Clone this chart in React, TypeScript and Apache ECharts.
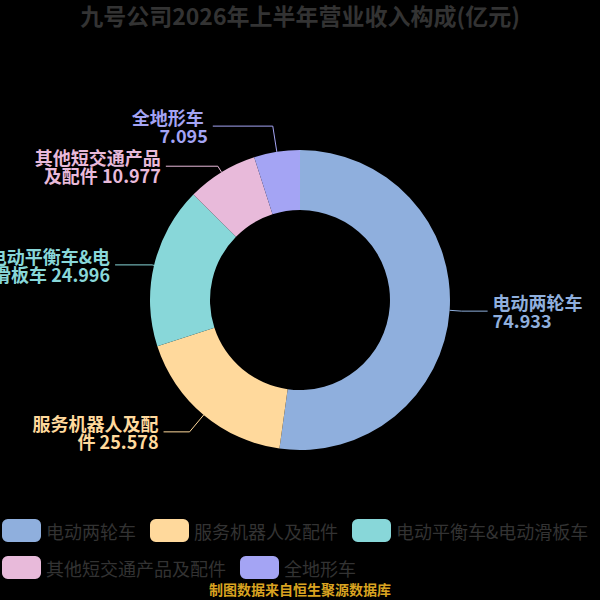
import React, { useEffect, useRef } from "react";
import * as echarts from "echarts";

const TITLE = "九号公司2026年上半年营业收入构成(亿元)";
const FOOTER = "制图数据来自恒生聚源数据库";
const categories = [
  "电动两轮车",
  "服务机器人及配件",
  "电动平衡车&电动滑板车",
  "其他短交通产品及配件",
  "全地形车",
];
const values = [74.933, 25.578, 24.996, 10.977, 7.095];

// styling (not data)
const colors = ["#8FAFDD", "#FFD99C", "#88D7D9", "#E8BADA", "#A4A4F4"];
const labelWidths = [95, 128, 137, 128, 100];
const lineLen1 = [12, 22, 2, 7, 26];
const lineLen2 = [26, 26, 37, 52, 60];

const FONT = "'Noto Sans CJK SC', 'Noto Sans', sans-serif";

export default function App() {
  const ref = useRef<HTMLDivElement>(null);
  useEffect(() => {
    if (!ref.current) return;
    const chart = echarts.init(ref.current, null, { renderer: "svg" });
    chart.setOption({
      animation: false,
      backgroundColor: "#000000",
      color: colors,
      textStyle: { fontFamily: FONT },
      title: {
        text: TITLE,
        left: "center",
        top: 3,
        padding: 0,
        textStyle: { color: "#333333", fontSize: 23, fontWeight: "bold", fontFamily: FONT },
      },
      graphic: [
        {
          type: "text",
          left: "center",
          top: 582,
          style: {
            text: FOOTER,
            fill: "#D9A320",
            font: `bold 14px ${FONT}`,
          },
        },
      ],
      legend: {
        left: 2,
        top: 519,
        padding: 0,
        itemWidth: 39,
        itemHeight: 23,
        itemGap: 14,
        icon: "roundRect",
        textStyle: { color: "#333333", fontSize: 18, fontFamily: FONT },
        data: categories,
      },
      series: [
        {
          type: "pie",
          center: [300, 300],
          radius: [90, 150],
          startAngle: 90,
          clockwise: true,
          label: {
            show: true,
            formatter: (p: any) => `${p.name} ${p.value}`,
            fontSize: 18,
            fontWeight: "bold",
            lineHeight: 18,
            overflow: "break",
            fontFamily: FONT,
          },
          labelLine: { show: true, length: 15, length2: 25 },
          data: categories.map((name, i) => ({
            name,
            value: values[i],
            label: { width: labelWidths[i], color: colors[i] },
            labelLine: { length: lineLen1[i], length2: lineLen2[i] },
          })),
        },
      ],
    });
    return () => chart.dispose();
  }, []);
  return (
    <div
      ref={ref}
      style={{ position: "absolute", left: 0, top: 0, width: 600, height: 600 }}
    />
  );
}
